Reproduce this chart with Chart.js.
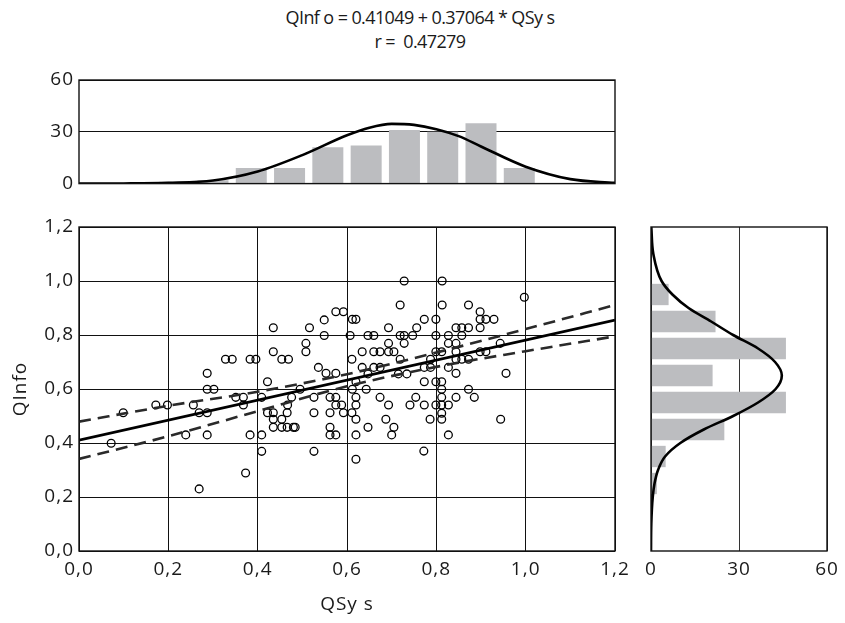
<!DOCTYPE html>
<html>
<head>
<meta charset="utf-8">
<script src="https://cdn.jsdelivr.net/npm/chart.js@4.4.1/dist/chart.umd.min.js"></script>
<style>
  html, body { margin: 0; padding: 0; background: #fff; }
  #page { position: relative; width: 845px; height: 623px; overflow: hidden; }
  .title { position: absolute; left: 0; width: 840px; text-align: center; font-family: "Open Sans", sans-serif; font-size: 18px; letter-spacing: -0.6px; color: #1a1a1a; white-space: pre; line-height: 22px; }
  canvas { position: absolute; }
</style>
</head>
<body>
<div id="page">
  <div class="title" style="top:6px">QInf o = 0.41049 + 0.37064 * QSy s</div>
  <div class="title" style="top:30px">r =  0.47279</div>
  <canvas id="topHist" width="640" height="140" style="left:0;top:60px"></canvas>
  <canvas id="main" width="640" height="423" style="left:0;top:200px"></canvas>
  <canvas id="sideHist" width="215" height="423" style="left:630px;top:200px"></canvas>
</div>
<script>
// scatter data (QSys, QInfo pairs)
const qsys = [
  0.099, 0.172, 0.198, 0.256, 0.269, 0.287, 0.287, 0.287, 0.302, 0.328,
  0.343, 0.351, 0.368, 0.368, 0.383, 0.396, 0.409, 0.422, 0.435, 0.435,
  0.454, 0.469, 0.495, 0.476, 0.467, 0.422, 0.435, 0.466, 0.526, 0.526,
  0.508, 0.508, 0.516, 0.536, 0.553, 0.575, 0.549, 0.549, 0.575, 0.592,
  0.562, 0.575, 0.575, 0.588, 0.562, 0.592, 0.607, 0.612, 0.620, 0.611,
  0.620, 0.612, 0.620, 0.620, 0.611, 0.620, 0.634, 0.634, 0.643, 0.647,
  0.647, 0.660, 0.660, 0.660, 0.674, 0.674, 0.674, 0.693, 0.693, 0.693,
  0.705, 0.693, 0.719, 0.728, 0.719, 0.728, 0.728, 0.719, 0.715, 0.734,
  0.747, 0.756, 0.773, 0.773, 0.787, 0.787, 0.773, 0.799, 0.799, 0.799,
  0.812, 0.813, 0.813, 0.799, 0.812, 0.827, 0.827, 0.827, 0.844, 0.857,
  0.872, 0.857, 0.844, 0.844, 0.844, 0.857, 0.872, 0.844, 0.872, 0.898,
  0.898, 0.911, 0.929, 0.898, 0.898, 0.911, 0.943, 0.956, 0.997, 0.620,
  0.620, 0.647, 0.687, 0.705, 0.700, 0.741, 0.754, 0.773, 0.786, 0.772,
  0.799, 0.812, 0.827, 0.812, 0.812, 0.812, 0.812, 0.827, 0.844, 0.872,
  0.885, 0.944, 0.072, 0.239, 0.287, 0.269, 0.383, 0.373, 0.409, 0.409,
  0.435, 0.454, 0.435, 0.454, 0.466, 0.480, 0.484, 0.526, 0.562, 0.562,
  0.575
];
const qinfo = [
  0.512, 0.541, 0.541, 0.541, 0.512, 0.512, 0.658, 0.599, 0.599, 0.710,
  0.710, 0.569, 0.569, 0.541, 0.710, 0.710, 0.569, 0.627, 0.827, 0.738,
  0.710, 0.710, 0.599, 0.569, 0.541, 0.512, 0.512, 0.512, 0.569, 0.512,
  0.769, 0.738, 0.827, 0.680, 0.658, 0.658, 0.856, 0.798, 0.886, 0.886,
  0.569, 0.569, 0.541, 0.541, 0.512, 0.512, 0.798, 0.858, 0.858, 0.710,
  0.627, 0.599, 0.569, 0.541, 0.512, 0.488, 0.738, 0.680, 0.599, 0.656,
  0.798, 0.798, 0.738, 0.680, 0.680, 0.738, 0.569, 0.827, 0.769, 0.738,
  0.738, 0.541, 0.911, 1.000, 0.798, 0.798, 0.769, 0.710, 0.656, 0.656,
  0.798, 0.827, 0.858, 0.680, 0.680, 0.710, 0.627, 0.858, 0.798, 0.738,
  0.738, 1.000, 0.911, 0.627, 0.627, 0.798, 0.769, 0.680, 0.827, 0.827,
  0.827, 0.798, 0.769, 0.738, 0.710, 0.710, 0.710, 0.658, 0.911, 0.886,
  0.858, 0.858, 0.858, 0.827, 0.738, 0.738, 0.769, 0.658, 0.940, 0.430,
  0.340, 0.458, 0.488, 0.458, 0.430, 0.541, 0.569, 0.541, 0.488, 0.370,
  0.541, 0.541, 0.541, 0.599, 0.569, 0.510, 0.488, 0.430, 0.569, 0.599,
  0.569, 0.488, 0.399, 0.430, 0.430, 0.230, 0.430, 0.289, 0.430, 0.369,
  0.488, 0.488, 0.458, 0.458, 0.458, 0.458, 0.458, 0.369, 0.458, 0.430,
  0.430
];

// regression line and confidence band
const fitX = [0, 1.2];
const fitY = [0.41049, 0.85526];
const bandX = [0, 0.2, 0.4, 0.6, 0.8, 1.0, 1.2];
const bandUpper = [0.479, 0.538, 0.590, 0.655, 0.735, 0.822, 0.911];
const bandLower = [0.341, 0.425, 0.518, 0.610, 0.682, 0.740, 0.795];

// top histogram (QSys), 14 bins over 0..1.2
const histXCenters = [0.0429, 0.1286, 0.2143, 0.3, 0.3857, 0.4714, 0.5571, 0.6429, 0.7286, 0.8143, 0.9, 0.9857, 1.0714, 1.1571];
const histXCounts = [0, 0, 1, 2, 9, 9, 21, 22, 31, 30, 35, 9, 0, 0];
const curveXPos = [0, 0.1, 0.2, 0.3, 0.4, 0.5, 0.6, 0.65, 0.7, 0.75, 0.8, 0.85, 0.9, 1.0, 1.1, 1.2];
const curveXVal = [0, 0.1, 0.5, 1.8, 7.0, 16.5, 28.0, 32.4, 34.6, 34.0, 31.5, 27.5, 21.5, 9.8, 2.6, 0.4];

// side histogram (QInfo), bins of 0.1
const histYCenters = [0.05, 0.15, 0.25, 0.35, 0.45, 0.55, 0.65, 0.75, 0.85, 0.95, 1.05, 1.15];
const histYCounts = [0, 0, 2, 5, 25, 46, 21, 46, 22, 6, 0, 0];
const curveYPos = [0, 0.1, 0.2, 0.25, 0.3, 0.35, 0.4, 0.45, 0.5, 0.55, 0.6, 0.65, 0.7, 0.75, 0.8, 0.85, 0.9, 0.95, 1.0, 1.1, 1.2];
const curveYVal = [0, 0.1, 0.6, 1.2, 2.4, 4.8, 10, 18, 28, 36.5, 42.5, 44.6, 42.3, 36.5, 28, 20.5, 12.8, 7.3, 3.6, 0.8, 0.1];

Chart.defaults.font.family = '"Open Sans", sans-serif';
Chart.defaults.font.size = 19;
Chart.defaults.color = '#1a1a1a';

const comma = v => Number(v).toFixed(1).replace('.', ',');

const framePlugin = {
  id: 'frame',
  afterDatasetsDraw(chart) {
    const { ctx, chartArea: a } = chart;
    ctx.save();
    ctx.strokeStyle = '#111';
    ctx.lineWidth = 1.4;
    ctx.strokeRect(a.left, a.top, a.right - a.left, a.bottom - a.top);
    ctx.restore();
  }
};
const spacingPlugin = {
  id: 'spacing',
  beforeDraw(chart) { chart.ctx.letterSpacing = '1px'; }
};

const common = {
  responsive: false,
  animation: false,
  events: [],
  plugins: { legend: { display: false }, tooltip: { enabled: false } }
};

// main scatter
new Chart(document.getElementById('main'), {
  type: 'scatter',
  data: {
    datasets: [
      {
        type: 'line',
        data: fitX.map((x, i) => ({ x, y: fitY[i] })),
        borderColor: '#000', borderWidth: 2.6, pointRadius: 0, fill: false
      },
      {
        type: 'line',
        data: bandX.map((x, i) => ({ x, y: bandUpper[i] })),
        borderColor: '#2a2a2a', borderWidth: 2.6, borderDash: [12, 7],
        pointRadius: 0, fill: false, cubicInterpolationMode: 'monotone'
      },
      {
        type: 'line',
        data: bandX.map((x, i) => ({ x, y: bandLower[i] })),
        borderColor: '#2a2a2a', borderWidth: 2.6, borderDash: [12, 7],
        pointRadius: 0, fill: false, cubicInterpolationMode: 'monotone'
      },
      {
        data: qsys.map((x, i) => ({ x, y: qinfo[i] })),
        pointRadius: 3.9, pointHoverRadius: 3.9, borderWidth: 1.3,
        borderColor: '#000', backgroundColor: 'rgba(0,0,0,0)'
      }
    ]
  },
  options: {
    ...common,
    layout: { padding: { top: 27, right: 25, left: 0, bottom: 0 } },
    scales: {
      x: {
        type: 'linear', min: 0, max: 1.2,
        afterFit: s => { s.height = 72; },
        ticks: { stepSize: 0.2, padding: 7, callback: comma },
        grid: { color: '#111', lineWidth: 1, drawTicks: false },
        border: { display: false },
        title: { display: true, text: 'QSy s', padding: { top: 0, bottom: 7 } }
      },
      y: {
        type: 'linear', min: 0, max: 1.2,
        afterFit: s => { s.width = 79; },
        ticks: { stepSize: 0.2, padding: 5, callback: comma },
        grid: { color: '#111', lineWidth: 1, drawTicks: false },
        border: { display: false },
        title: { display: true, text: 'QInfo', padding: { top: 9, bottom: 0 } }
      }
    }
  },
  plugins: [framePlugin, spacingPlugin]
});

// top histogram
new Chart(document.getElementById('topHist'), {
  type: 'bar',
  data: {
    datasets: [
      {
        type: 'line',
        data: curveXPos.map((x, i) => ({ x, y: curveXVal[i] })),
        borderColor: '#000', borderWidth: 2.6, pointRadius: 0, fill: false,
        cubicInterpolationMode: 'monotone'
      },
      {
        data: histXCenters.map((x, i) => ({ x, y: histXCounts[i] })),
        backgroundColor: '#bcbdc0', borderWidth: 0,
        barPercentage: 0.81, categoryPercentage: 1
      }
    ]
  },
  options: {
    ...common,
    layout: { padding: { top: 20, right: 25, left: 0, bottom: 15 } },
    scales: {
      x: { type: 'linear', min: 0, max: 1.2, offset: false, display: false, grid: { offset: false } },
      y: {
        type: 'linear', min: 0, max: 60,
        afterFit: s => { s.width = 79; },
        ticks: { stepSize: 30, padding: 5 },
        grid: { color: '#111', lineWidth: 1, drawTicks: false },
        border: { display: false }
      }
    }
  },
  plugins: [framePlugin, spacingPlugin]
});

// side histogram
new Chart(document.getElementById('sideHist'), {
  type: 'bar',
  data: {
    datasets: [
      {
        type: 'line', indexAxis: 'y',
        data: curveYPos.map((y, i) => ({ x: curveYVal[i], y })),
        borderColor: '#000', borderWidth: 2.6, pointRadius: 0, fill: false,
        cubicInterpolationMode: 'monotone'
      },
      {
        data: histYCenters.map((y, i) => ({ x: histYCounts[i], y })),
        backgroundColor: '#bcbdc0', borderWidth: 0,
        barPercentage: 0.79, categoryPercentage: 1
      }
    ]
  },
  options: {
    ...common,
    indexAxis: 'y',
    layout: { padding: { top: 27, right: 18, left: 21, bottom: 0 } },
    scales: {
      y: { type: 'linear', min: 0, max: 1.2, offset: false, display: false, grid: { offset: false } },
      x: {
        type: 'linear', min: 0, max: 60,
        afterFit: s => { s.height = 72; },
        ticks: { stepSize: 30, padding: 7 },
        grid: { color: '#333', lineWidth: 1, drawTicks: false },
        border: { display: false }
      }
    }
  },
  plugins: [framePlugin, spacingPlugin]
});
</script>
</body>
</html>
